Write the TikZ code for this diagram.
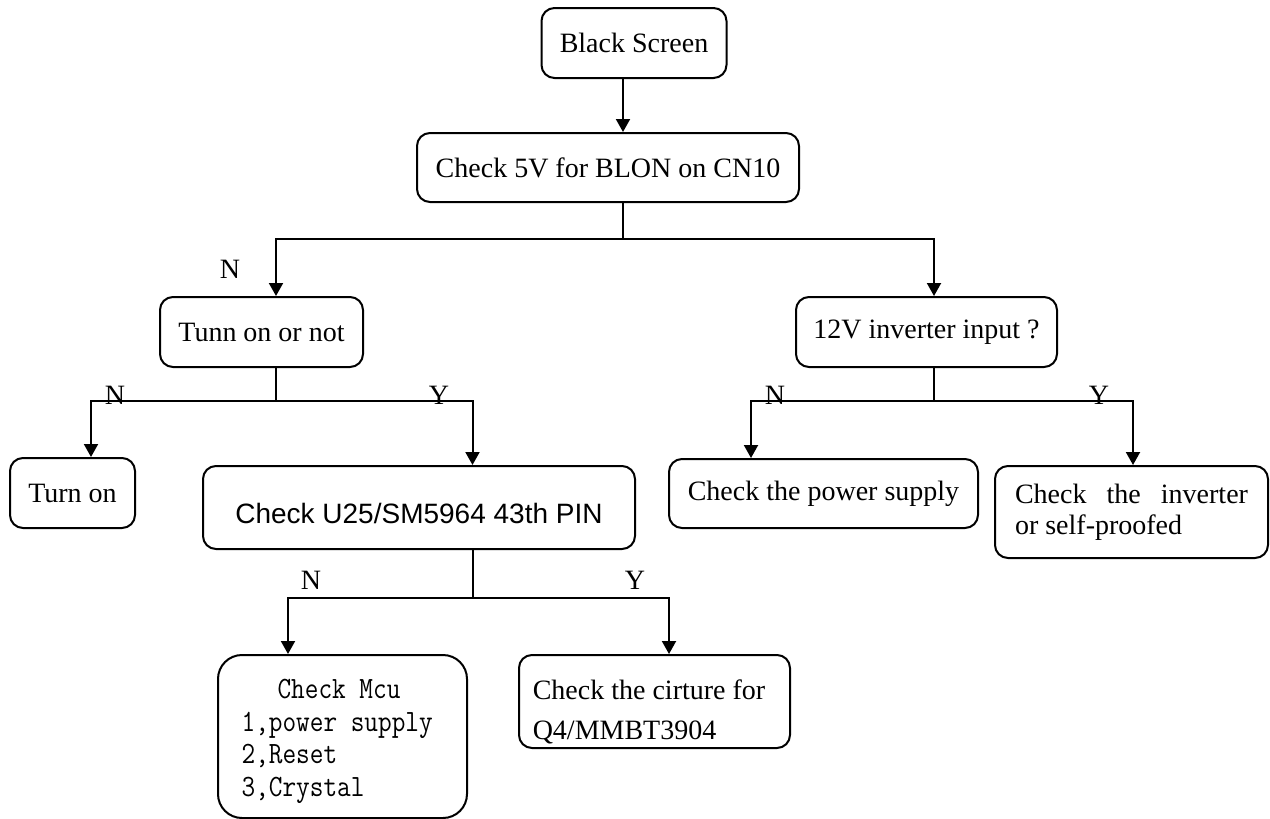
\documentclass[tikz,border=0pt]{standalone}
\usepackage{fontspec}
\usepackage{graphicx}
\setmainfont{Liberation Serif}
\newfontfamily\arialf{Liberation Sans}
\usetikzlibrary{arrows.meta,calc}
\begin{document}
\begin{tikzpicture}[x=0.5pt,y=-0.5pt,
  box/.style={draw, line width=1pt, rounded corners=6.5pt, inner sep=0pt, align=center,
              font=\fontsize{14}{15.5}\selectfont},
  arr/.style={-{Triangle[width=7pt,length=6.5pt]}, line width=1pt},
  conn/.style={line width=1pt},
  lbl/.style={inner sep=0pt, anchor=base, font=\fontsize{14}{16}\selectfont},
  txt/.style={inner sep=0pt, align=left}]
\useasboundingbox (0,0) rectangle (1270,819);

% boxes
\node[box, minimum width=92.5pt, minimum height=35pt] (bs) at (634,43) {Black Screen};
\node[box, minimum width=191pt, minimum height=34.5pt] (c5) at (608,167.5) {Check 5V for BLON on CN10};
\node[box, minimum width=101.5pt, minimum height=35pt] (tun) at (261.5,332) {Tunn on or not};
\node[box, minimum width=130.5pt, minimum height=35pt, text height=9.5pt, text depth=3pt] (v12) at (926.5,332) {12V inverter input ?};
\node[box, minimum width=62.5pt, minimum height=35pt] (ton) at (72.5,493) {Turn on};
\node[box, minimum width=216pt, minimum height=41.5pt, text height=15.5pt, text depth=0pt,
      font=\fontsize{14}{16}\arialf] (u25) at (419,507.5) {Check U25/SM5964 43th PIN};
\node[box, minimum width=154.5pt, minimum height=34.5pt] (pwr) at (823.5,493.5) {Check the power supply};
\node[box, minimum width=136.5pt, minimum height=46pt, align=left] (inv) at (1131.5,512)
  {\makebox[116.5pt][s]{Check the inverter}\\or self-proofed};
\node[box, minimum width=124.5pt, minimum height=81.5pt, rounded corners=12pt] (mcu) at (342.5,736.5) {};
\node[inner sep=0pt, font=\fontsize{15.5}{16.35}\ttfamily] (mcut) at (339,741)
  {\scalebox{0.855}[1]{\begin{tabular}{@{}l@{}}\makebox[113.9pt][c]{Check Mcu}\\1,power supply\\2,Reset\\3,Crystal\end{tabular}}};
\node[box, minimum width=135.5pt, minimum height=46.5pt] (cir) at (654.5,701.5) {};
\node[txt, font=\fontsize{14}{20}\selectfont] (cirt) at (649,712)
  {Check the cirture for\\Q4/MMBT3904};

% junctions
\coordinate (j1) at (623,239);
\coordinate (j2) at (276,401);
\coordinate (j3) at (934,401);
\coordinate (j4) at (473,598);

% connectors
\draw[arr] (bs.south -| j1) -- (c5.north -| j1);
\draw[conn] (c5.south -| j1) -- (j1);
\draw[arr] (j1) -| (j2 |- tun.north);
\draw[arr] (j1) -| (j3 |- v12.north);

\draw[conn] (tun.south -| j2) -- (j2);
\draw[arr] (j2) -| ($(ton.north)+(18.5,0)$);
\draw[arr] (j2) -| ($(u25.north)+(53.5,0)$);

\draw[conn] (v12.south -| j3) -- (j3);
\draw[arr] (j3) -| ($(pwr.north)+(-72.5,0)$);
\draw[arr] (j3) -| ($(inv.north)+(1.5,0)$);

\draw[conn] (u25.south -| j4) -- (j4);
\draw[arr] (j4) -| ($(mcu.north)+(-54.5,0)$);
\draw[arr] (j4) -| ($(cir.north)+(14.5,0)$);

% labels
\node[lbl] (n1) at (230,278) {N};
\node[lbl] (n2) at (115,404) {N};
\node[lbl] (y2) at (439,404) {Y};
\node[lbl] (n3) at (775,404) {N};
\node[lbl] (y3) at (1099,404) {Y};
\node[lbl] (n4) at (311,589) {N};
\node[lbl] (y4) at (635,589) {Y};
\end{tikzpicture}
\end{document}
